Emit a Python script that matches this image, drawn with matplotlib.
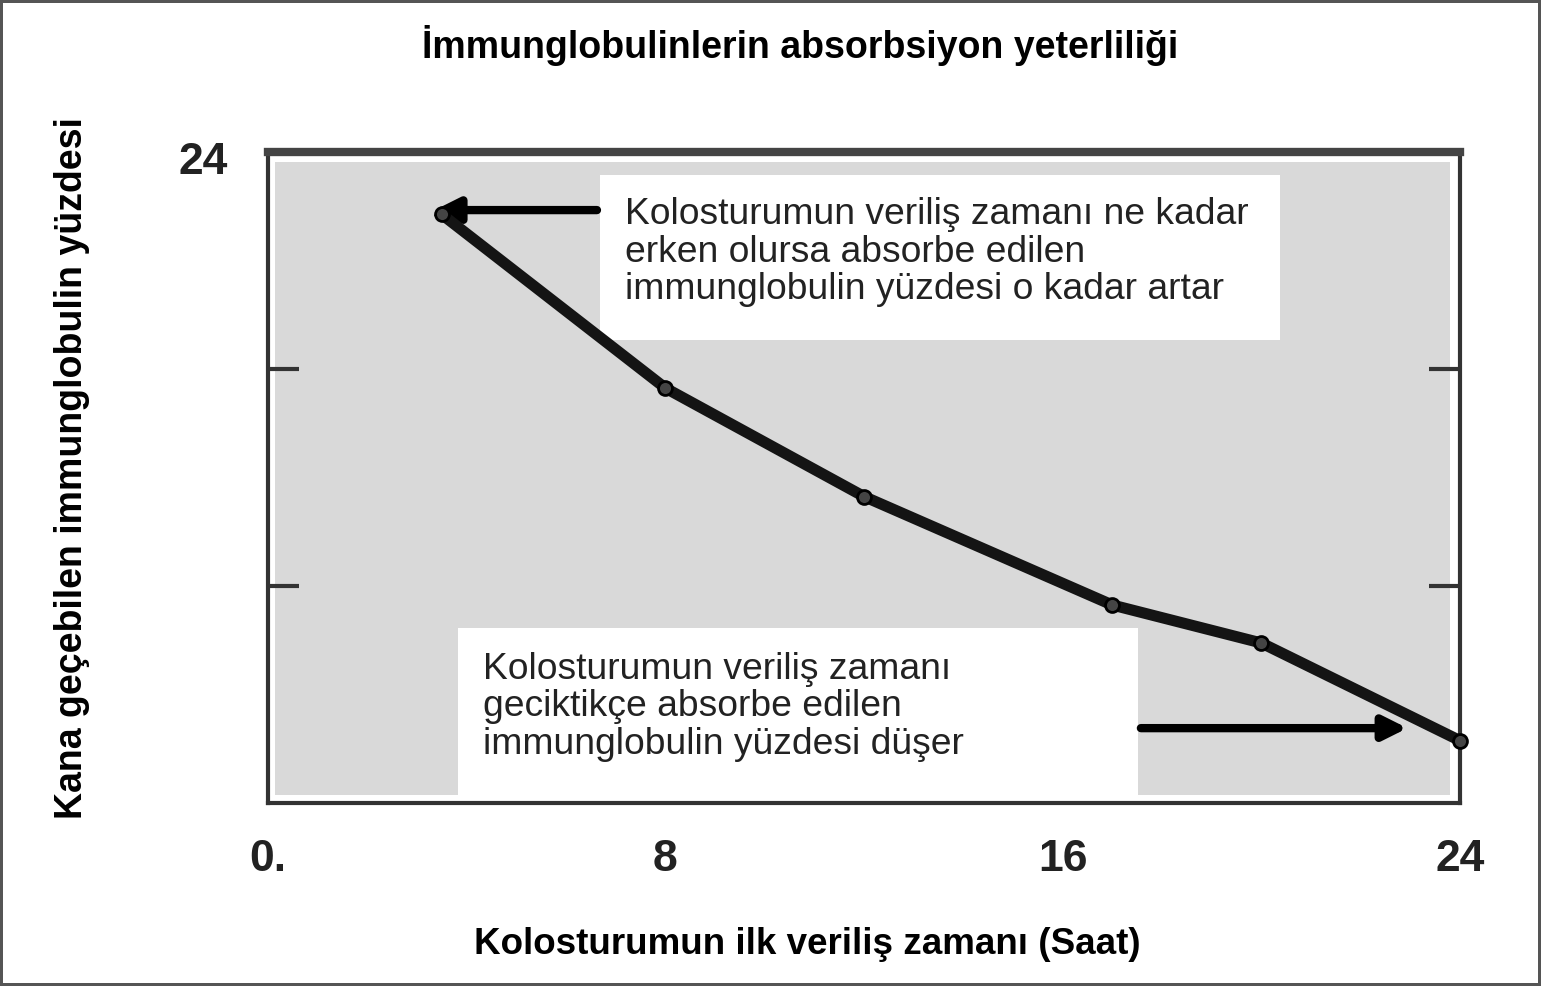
import matplotlib.pyplot as plt
from matplotlib.patches import Rectangle

# Data
hours = [3.5, 8, 12, 17, 20, 24]            # first colostrum time (h)
absorbed = [21.7, 15.3, 11.3, 7.3, 5.9, 2.3]  # % immunoglobulin absorbed
xtick_vals = [0, 8, 16, 24]
xtick_labels = ["0.", "8", "16", "24"]

title = "İmmunglobulinlerin absorbsiyon yeterliliği"
xlabel = "Kolosturumun ilk veriliş zamanı (Saat)"
ylabel = "Kana geçebilen immunglobulin yüzdesi"
note_early = "Kolosturumun veriliş zamanı ne kadar\nerken olursa absorbe edilen\nimmunglobulin yüzdesi o kadar artar"
note_late = "Kolosturumun veriliş zamanı\ngeciktikçe absorbe edilen\nimmunglobulin yüzdesi düşer"

plt.rcParams['font.family'] = ['Liberation Sans', 'DejaVu Sans']

fig = plt.figure(figsize=(15.41, 9.86), dpi=100)
fig.patch.set_edgecolor('#555555')
fig.patch.set_linewidth(3)

ax = fig.add_axes([0.1739, 0.1856, 0.7735, 0.6602])
ax.set_xlim(0, 24)
ax.set_ylim(0, 24)

# gray plotting area, slightly inset from the frame
ax.add_patch(Rectangle((0.006, 0.012), 0.986, 0.973, transform=ax.transAxes,
                       facecolor='#d9d9d9', edgecolor='none', zorder=0))

# white note boxes
ax.add_patch(Rectangle((6.68, 17.07), 13.69, 6.08, facecolor='white', edgecolor='none', zorder=1))
ax.add_patch(Rectangle((3.83, 0.3), 13.69, 6.15, facecolor='white', edgecolor='none', zorder=1))

ax.text(7.19, 20.31, note_early, fontsize=26.8, va='center', ha='left',
        color='#222222', linespacing=1.1, zorder=2)
ax.text(4.33, 3.54, note_late, fontsize=26.8, va='center', ha='left',
        color='#222222', linespacing=1.1, zorder=2)

# arrows
ax.annotate("", xy=(3.3, 21.86), xytext=(6.68, 21.86),
            arrowprops=dict(arrowstyle='-|>', lw=6, color='black', mutation_scale=35), zorder=3)
ax.annotate("", xy=(23.0, 2.76), xytext=(17.52, 2.76),
            arrowprops=dict(arrowstyle='-|>', lw=6, color='black', mutation_scale=35), zorder=3)

# the curve
ax.plot(hours, absorbed, color='#141414', lw=8, marker='o', ms=10,
        mfc='#444444', mec='black', mew=2, zorder=4, clip_on=False)

# frame
for side in ['left', 'right', 'bottom']:
    ax.spines[side].set_linewidth(3)
    ax.spines[side].set_color('#333333')
ax.spines['top'].set_linewidth(6)
ax.spines['top'].set_color('#444444')

ax.set_xticks(xtick_vals)
ax.set_xticklabels(xtick_labels, fontsize=32, fontweight='bold', color='#222222')
ax.tick_params(axis='x', length=0, pad=26)
ax.set_yticks([8, 16])
ax.set_yticklabels([])
ax.tick_params(axis='y', direction='in', length=22, width=3, color='#333333',
               left=True, right=True)
ax.text(-1.3, 23.6, "24", fontsize=32, fontweight='bold', color='#222222',
        ha='center', va='center')

fig.text(0.519, 0.954, title, fontsize=27, fontweight='bold', ha='center', va='center',
         family=['Liberation Sans Narrow', 'Liberation Sans', 'DejaVu Sans'])
fig.text(0.524, 0.0416, xlabel, fontsize=26.5, fontweight='bold', ha='center', va='center')
fig.text(0.047, 0.525, ylabel, fontsize=27, fontweight='bold', ha='center', va='center',
         rotation=90)

fig.savefig("out.png", dpi=100)
